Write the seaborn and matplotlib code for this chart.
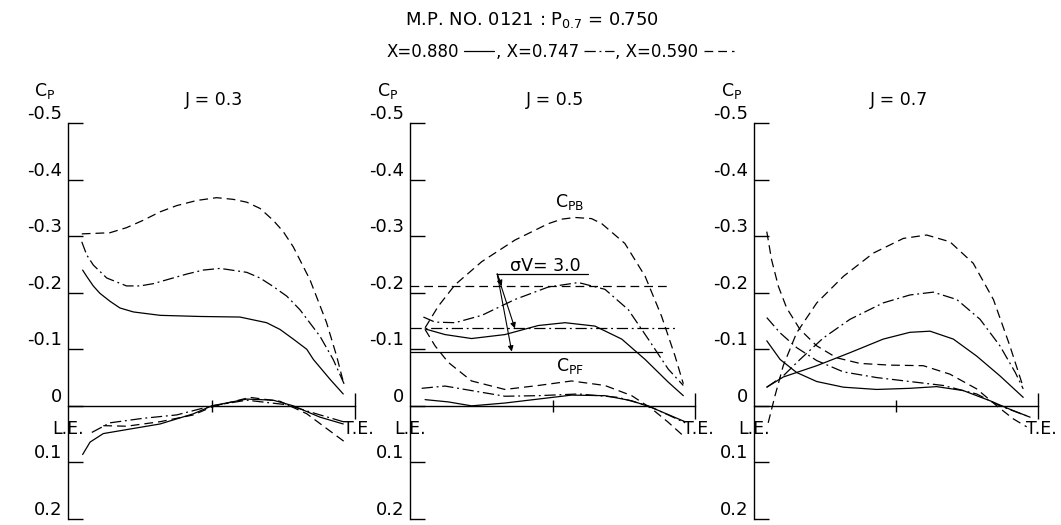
import pandas as pd
import matplotlib
matplotlib.use("Agg")
import matplotlib.pyplot as plt
from matplotlib.lines import Line2D
import seaborn as sns

# (chord position 0=L.E. .. 1=T.E., Cp), one list per curve
# J = 0.3
j03_back_880 = [(0.051, -0.240), (0.065, -0.229), (0.088, -0.212), (0.111, -0.199), (0.146, -0.185),
                (0.181, -0.173), (0.228, -0.166), (0.321, -0.160), (0.460, -0.158), (0.599, -0.157),
                (0.692, -0.147), (0.739, -0.135), (0.785, -0.118), (0.832, -0.100), (0.855, -0.082),
                (0.913, -0.047), (0.959, -0.021)]
j03_back_747 = [(0.048, -0.290), (0.065, -0.267), (0.088, -0.249), (0.135, -0.226), (0.204, -0.212),
                (0.251, -0.212), (0.297, -0.216), (0.414, -0.233), (0.471, -0.240), (0.530, -0.243),
                (0.623, -0.236), (0.669, -0.226), (0.715, -0.211), (0.762, -0.194), (0.808, -0.170),
                (0.878, -0.123), (0.924, -0.082), (0.962, -0.039)]
j03_back_590 = [(0.048, -0.304), (0.146, -0.306), (0.204, -0.315), (0.262, -0.328), (0.321, -0.343),
                (0.379, -0.354), (0.448, -0.363), (0.518, -0.368), (0.576, -0.365), (0.623, -0.360),
                (0.669, -0.349), (0.715, -0.328), (0.750, -0.308), (0.785, -0.281), (0.843, -0.223),
                (0.901, -0.147), (0.936, -0.088), (0.962, -0.037)]
j03_face_880 = [(0.051, 0.086), (0.077, 0.064), (0.123, 0.049), (0.204, 0.042), (0.321, 0.032),
                (0.437, 0.014), (0.501, 0.000), (0.623, -0.012), (0.715, -0.010), (0.785, 0.000),
                (0.878, 0.020), (0.959, 0.032)]
j03_face_747 = [(0.083, 0.047), (0.146, 0.030), (0.262, 0.022), (0.379, 0.016), (0.501, 0.000),
                (0.623, -0.010), (0.762, -0.002), (0.878, 0.016), (0.959, 0.028)]
j03_face_590 = [(0.123, 0.035), (0.204, 0.036), (0.321, 0.028), (0.437, 0.016), (0.501, 0.002),
                (0.634, -0.015), (0.739, -0.008), (0.832, 0.014), (0.901, 0.040), (0.965, 0.064)]

# J = 0.5
j05_back_880 = [(0.053, -0.136), (0.123, -0.126), (0.216, -0.119), (0.333, -0.126), (0.450, -0.142),
                (0.544, -0.147), (0.649, -0.141), (0.743, -0.118), (0.825, -0.082), (0.906, -0.042),
                (0.959, -0.018)]
j05_back_747 = [(0.047, -0.157), (0.088, -0.148), (0.158, -0.147), (0.252, -0.160), (0.368, -0.188),
                (0.485, -0.210), (0.591, -0.218), (0.684, -0.206), (0.766, -0.170), (0.836, -0.118),
                (0.906, -0.065), (0.959, -0.036)]
j05_back_590 = [(0.053, -0.138), (0.099, -0.176), (0.158, -0.214), (0.252, -0.255), (0.368, -0.293),
                (0.485, -0.322), (0.532, -0.330), (0.579, -0.333), (0.637, -0.331), (0.673, -0.322),
                (0.754, -0.287), (0.825, -0.229), (0.883, -0.158), (0.930, -0.088), (0.959, -0.039)]
j05_face_880 = [(0.053, -0.011), (0.134, -0.007), (0.216, 0.000), (0.333, -0.005), (0.450, -0.012),
                (0.567, -0.019), (0.684, -0.018), (0.778, -0.009), (0.848, 0.003), (0.918, 0.018),
                (0.965, 0.028)]
j05_face_747 = [(0.041, -0.031), (0.123, -0.035), (0.216, -0.027), (0.333, -0.017), (0.450, -0.018),
                (0.591, -0.021), (0.731, -0.015), (0.836, 0.000), (0.906, 0.016), (0.965, 0.030)]
j05_face_590 = [(0.053, -0.135), (0.088, -0.106), (0.134, -0.077), (0.216, -0.044), (0.333, -0.029),
                (0.450, -0.036), (0.567, -0.044), (0.684, -0.036), (0.778, -0.018), (0.848, 0.005),
                (0.906, 0.029), (0.959, 0.053)]

# J = 0.7
j07_back_880 = [(0.045, -0.033), (0.103, -0.051), (0.221, -0.071), (0.338, -0.094), (0.455, -0.118),
                (0.549, -0.130), (0.620, -0.132), (0.702, -0.118), (0.784, -0.088), (0.866, -0.053),
                (0.948, -0.015)]
j07_back_747 = [(0.045, -0.033), (0.103, -0.053), (0.162, -0.082), (0.244, -0.120), (0.338, -0.153),
                (0.455, -0.182), (0.549, -0.196), (0.631, -0.201), (0.714, -0.188), (0.796, -0.153),
                (0.866, -0.106), (0.920, -0.059), (0.948, -0.030)]
j07_back_590 = [(0.050, 0.030), (0.074, -0.018), (0.103, -0.071), (0.150, -0.129), (0.221, -0.182),
                (0.315, -0.229), (0.420, -0.270), (0.526, -0.296), (0.608, -0.302), (0.690, -0.290),
                (0.772, -0.252), (0.843, -0.188), (0.901, -0.106), (0.948, -0.033)]
j07_face_880 = [(0.045, -0.115), (0.092, -0.082), (0.150, -0.059), (0.221, -0.043), (0.315, -0.033),
                (0.432, -0.029), (0.549, -0.031), (0.643, -0.034), (0.737, -0.027), (0.831, -0.009),
                (0.901, 0.006), (0.972, 0.020)]
j07_face_747 = [(0.045, -0.156), (0.092, -0.129), (0.150, -0.103), (0.221, -0.080), (0.315, -0.060),
                (0.432, -0.050), (0.549, -0.043), (0.667, -0.036), (0.784, -0.021), (0.866, 0.000),
                (0.972, 0.020)]
j07_face_590 = [(0.045, -0.308), (0.062, -0.258), (0.086, -0.211), (0.115, -0.173), (0.162, -0.135),
                (0.221, -0.106), (0.291, -0.085), (0.373, -0.075), (0.479, -0.072), (0.596, -0.071),
                (0.690, -0.056), (0.784, -0.030), (0.855, 0.000), (0.913, 0.023), (0.960, 0.037)]

# sigma_V = 3.0 lines in the J = 0.5 panel (one per X)
sigma_cp = [-0.095, -0.137, -0.211]
sigma_end = [0.883, 0.930, 0.906]

J_values = [0.3, 0.5, 0.7]
X_order = ["0.880", "0.747", "0.590"]
yticks = [-0.5, -0.4, -0.3, -0.2, -0.1, 0, 0.1, 0.2]
ytick_labels = ["-0.5", "-0.4", "-0.3", "-0.2", "-0.1", "0", "0.1", "0.2"]

curves = {
    (0.3, "back", "0.880"): j03_back_880, (0.3, "back", "0.747"): j03_back_747,
    (0.3, "back", "0.590"): j03_back_590, (0.3, "face", "0.880"): j03_face_880,
    (0.3, "face", "0.747"): j03_face_747, (0.3, "face", "0.590"): j03_face_590,
    (0.5, "back", "0.880"): j05_back_880, (0.5, "back", "0.747"): j05_back_747,
    (0.5, "back", "0.590"): j05_back_590, (0.5, "face", "0.880"): j05_face_880,
    (0.5, "face", "0.747"): j05_face_747, (0.5, "face", "0.590"): j05_face_590,
    (0.7, "back", "0.880"): j07_back_880, (0.7, "back", "0.747"): j07_back_747,
    (0.7, "back", "0.590"): j07_back_590, (0.7, "face", "0.880"): j07_face_880,
    (0.7, "face", "0.747"): j07_face_747, (0.7, "face", "0.590"): j07_face_590,
}

rows = []
for (J, side, X), pts in curves.items():
    for x, cp in pts:
        rows.append({"J": J, "side": side, "X": X, "x": x, "cp": cp})
df = pd.DataFrame(rows)
df["curve"] = df["side"] + "_" + df["X"]

sns.set_style("white")
plt.rcParams["font.family"] = ["DejaVu Sans"]
plt.rcParams["mathtext.fontset"] = "dejavusans"
plt.rcParams["text.color"] = "black"
plt.rcParams["xtick.color"] = "black"
plt.rcParams["ytick.color"] = "black"

LW = 0.9
dash_map = {"0.880": "", "0.747": (9, 3, 1.5, 3), "0.590": (7, 4)}

fig = plt.figure(figsize=(10.61, 5.25), dpi=100)
W, H = 1061, 525
panel_px = [(68, 287), (410, 285), (754, 284)]
axes = [fig.add_axes([l / W, 6 / H, w / W, 396 / H]) for l, w in panel_px]

for ax, J in zip(axes, J_values):
    sub = df[df["J"] == J]
    sns.lineplot(data=sub, x="x", y="cp", style="X", style_order=X_order, units="curve",
                 estimator=None, sort=False, color="black", lw=LW, dashes=dash_map,
                 legend=False, ax=ax)

    ax.set_xlim(0, 1)
    ax.set_ylim(0.2, -0.5)
    ax.set_xlabel("")
    ax.set_ylabel("")
    ax.spines[["top", "right"]].set_visible(False)
    ax.spines["bottom"].set_position(("data", 0))
    for s in ["left", "bottom"]:
        ax.spines[s].set_linewidth(1.0)
        ax.spines[s].set_color("black")

    ax.set_yticks(yticks)
    ax.set_yticklabels(ytick_labels, va="bottom")
    ax.tick_params(axis="y", left=True, direction="in", length=11, width=1.0, pad=4,
                   labelsize=13, colors="black")
    ax.set_xticks([0.5])
    ax.set_xticklabels([])
    ax.set_xticks([1.0], minor=True)
    ax.tick_params(axis="x", which="both", bottom=True)
    ax.tick_params(axis="x", which="major", direction="inout", length=8, width=1.0)
    ax.tick_params(axis="x", which="minor", direction="inout", length=19, width=1.0)

    ax.text(-0.08, -0.557, r"C$_{\mathrm{P}}$", ha="center", va="center", fontsize=12.5)
    ax.text(0.51, -0.54, "J = %.1f" % J, ha="center", va="center", fontsize=12.5)
    ax.text(0.0, 0.041, "L.E.", ha="center", va="center", fontsize=12.5)
    ax.text(1.012, 0.041, "T.E.", ha="center", va="center", fontsize=12.5)

# J = 0.5 panel extras
ax = axes[1]
for cp, end, X in zip(sigma_cp, sigma_end, X_order):
    if dash_map[X] == "":
        ax.plot([0, end], [cp, cp], color="black", lw=LW)
    else:
        ax.plot([0, end], [cp, cp], color="black", lw=LW, dashes=dash_map[X])
ax.plot([0.304, 0.626], [-0.233, -0.233], color="black", lw=LW)
ax.text(0.474, -0.247, "σV= 3.0", ha="center", va="center", fontsize=12.5)
for tip in [(0.322, -0.212), (0.368, -0.137), (0.357, -0.096)]:
    ax.annotate("", xy=tip, xytext=(0.306, -0.233),
                arrowprops=dict(arrowstyle="-|>", color="black", lw=0.8,
                                mutation_scale=8, shrinkA=0, shrinkB=0))
ax.text(0.56, -0.36, r"C$_{\mathrm{PB}}$", ha="center", va="center", fontsize=12.5)
ax.text(0.56, -0.07, r"C$_{\mathrm{PF}}$", ha="center", va="center", fontsize=12.5)

fig.text(532 / W, 1 - 20 / H, r"M.P. NO. 0121 : P$_{0.7}$ = 0.750",
         ha="center", va="center", fontsize=13)

handles = [Line2D([], [], color="black", lw=LW)]
handles += [Line2D([], [], color="black", lw=LW, dashes=dash_map[X]) for X in X_order[1:]]
labels = ["X=" + X_order[0], ", X=" + X_order[1], ", X=" + X_order[2]]
fig.legend(handles, labels, loc="center", bbox_to_anchor=(560 / W, 1 - 52 / H), ncol=3,
           markerfirst=False, frameon=False, fontsize=12, handlelength=1.8,
           handletextpad=0.3, columnspacing=0.1, borderpad=0)

fig.savefig("out.png", dpi=100)
